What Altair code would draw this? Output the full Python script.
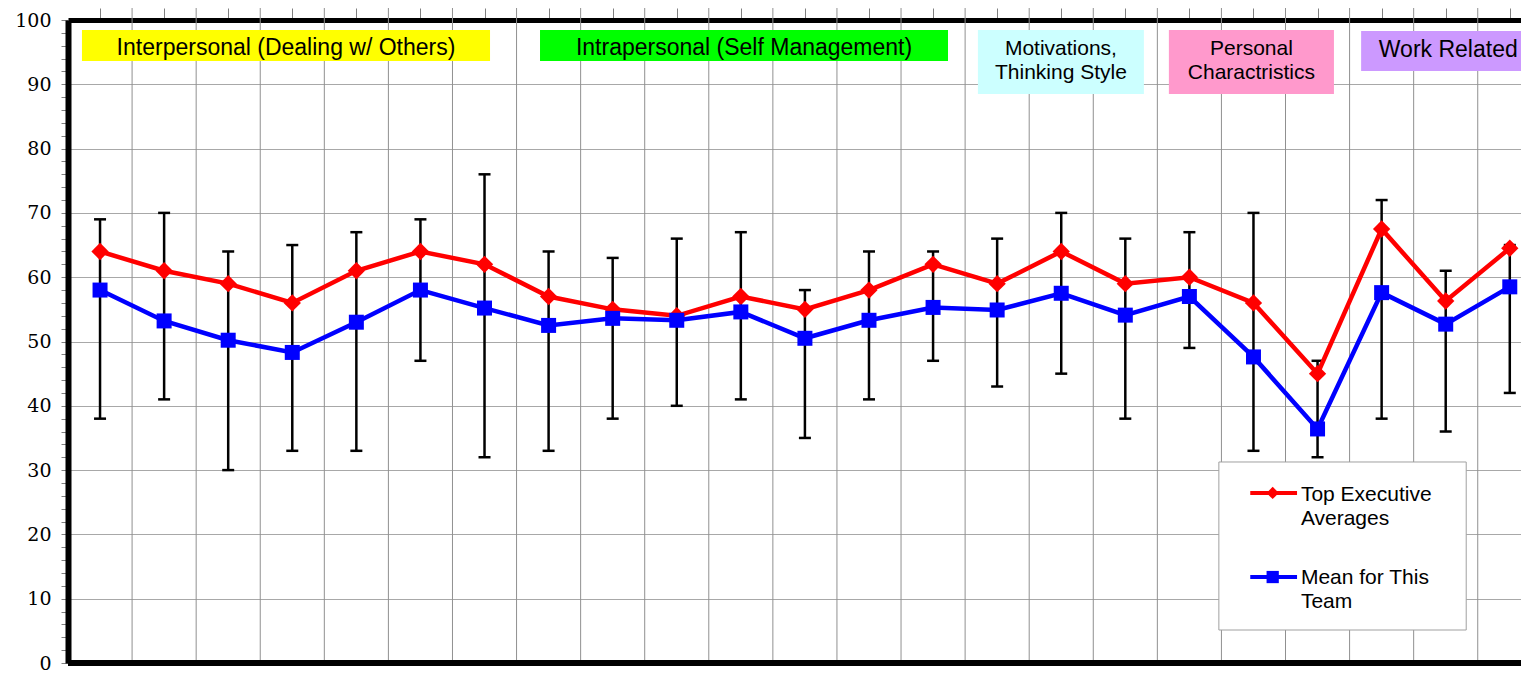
import altair as alt
import pandas as pd

# ---------------- data ----------------
category_index = list(range(1, 24))
top_exec_avg = [64, 61, 59, 56, 61, 64, 62, 57, 55, 54, 57, 55, 58, 62, 59, 64, 59, 60, 56, 45, 67.5, 56.3, 64.5]
team_mean = [58, 53.2, 50.2, 48.3, 53, 58, 55.2, 52.5, 53.6, 53.3, 54.6, 50.5, 53.3, 55.3, 54.9, 57.5, 54.1, 57, 47.6, 36.4, 57.6, 52.7, 58.5]
team_high = [69, 70, 64, 65, 67, 69, 76, 64, 63, 66, 67, 58, 64, 64, 66, 70, 66, 67, 70, 47, 72, 61, 65]
team_low = [38, 41, 30, 33, 33, 47, 32, 33, 38, 40, 41, 35, 41, 47, 43, 45, 38, 49, 33, 32, 38, 36, 42]

series_names = ["Top Executive Averages", "Mean for This Team"]
legend_labels = ["Top Executive\nAverages", "Mean for This\nTeam"]
series_colors = ["#FF0000", "#0000FF"]

group_labels = ["Interpersonal (Dealing w/ Others)", "Intrapersonal (Self Management)",
                "Motivations,\nThinking Style", "Personal\nCharactristics", "Work Related"]
group_colors = ["#FFFF00", "#00FF00", "#CCFFFF", "#FF99CC", "#CC99FF"]

y_tick_values = list(range(0, 101, 2))

# ---------------- layout (annotation placement, in axis units) ----------------
X_MAX = 23.175
box_x0 = [0.718, 7.866, 14.70, 17.68, 20.68]
box_x1 = [7.086, 14.233, 17.29, 20.256, 23.4]
box_y0 = [98.44, 98.44, 98.44, 98.44, 98.29]
box_y1 = [93.62, 93.62, 88.49, 88.49, 92.07]
text_y = [94.48, 94.48, 94.63, 94.63, 94.32]
big_text = [True, True, False, False, True]

LEG_X0, LEG_X1, LEG_Y0, LEG_Y1 = 18.46, 22.32, 31.26, 5.13
LEG_LINE_X0, LEG_LINE_X1, LEG_MARK_X, LEG_TEXT_X = 18.95, 19.68, 19.30, 19.74
leg_row_y = [26.44, 13.37]
leg_text_y = [25.27, 12.21]
leg_shapes = ["diamond", "square"]

# ---------------- tables ----------------
df = pd.DataFrame({"idx": category_index, "top": top_exec_avg, "mean": team_mean,
                   "hi": team_high, "lo": team_low})
long = pd.DataFrame({
    "idx": category_index * 2,
    "series": [series_names[0]] * len(category_index) + [series_names[1]] * len(category_index),
    "value": top_exec_avg + team_mean,
})
hdr = pd.DataFrame({"label": group_labels, "color": group_colors, "x0": box_x0, "x1": box_x1,
                    "y0": box_y0, "y1": box_y1, "ty": text_y, "big": big_text})
leg = pd.DataFrame({"series": series_names, "label": legend_labels, "ry": leg_row_y,
                    "ty": leg_text_y, "shape": leg_shapes})
one = pd.DataFrame({"k": [0]})

x_scale = alt.Scale(domain=[0.5, X_MAX], nice=False, zero=False)
y_scale = alt.Scale(domain=[0, 100], nice=False, zero=False)

x_axis = alt.Axis(orient="top", values=category_index, labels=False, ticks=True, tickSize=12,
                  tickColor="#808080", tickWidth=1, domainColor="black", domainWidth=5,
                  grid=False, title=None)
y_axis = alt.Axis(orient="left", values=y_tick_values,
                  labelExpr="datum.value % 10 === 0 ? datum.label : ''",
                  labelFont="DejaVu Serif", labelFontSize=19, labelColor="black",
                  labelPadding=10, labelOverlap=False, tickSize=7, tickColor="#808080",
                  tickWidth=1, domainColor="black", domainWidth=6, grid=True,
                  gridColor="#a8a8a8", gridWidth=1.2,
                  gridOpacity={"condition": {"test": "datum.value % 10 === 0", "value": 1}, "value": 0},
                  title=None)


def X(field):
    return alt.X(field, type="quantitative", scale=x_scale, axis=x_axis)


def Y(field):
    return alt.Y(field, type="quantitative", scale=y_scale, axis=y_axis)


def XD(v):
    return alt.XDatum(v, type="quantitative", scale=x_scale, axis=x_axis)


def YD(v):
    return alt.YDatum(v, type="quantitative", scale=y_scale, axis=y_axis)


color_enc = alt.Color("series:N", scale=alt.Scale(domain=series_names, range=series_colors), legend=None)

# vertical gridlines at category boundaries
vgrid = alt.Chart(df).transform_filter("datum.idx < 23").transform_calculate(
    gb="datum.idx + 0.5").mark_rule(color="#909090", strokeWidth=1).encode(
    x=X("gb"), y=YD(0), y2=alt.Y2Datum(102))

# group header boxes
hdr_rect = alt.Chart(hdr).mark_rect().encode(
    x=X("x0"), x2="x1", y=Y("y0"), y2="y1", fill=alt.Fill("color:N", scale=None))
hdr_base = alt.Chart(hdr).transform_calculate(xm="(datum.x0 + datum.x1) / 2")
hdr_text_big = hdr_base.transform_filter("datum.big").mark_text(
    font="Liberation Sans", fontSize=23, color="black", align="center", baseline="alphabetic",
    lineBreak="\n", lineHeight=24).encode(x=X("xm"), y=Y("ty"), text="label:N")
hdr_text_small = hdr_base.transform_filter("!datum.big").mark_text(
    font="Liberation Sans", fontSize=21, color="black", align="center", baseline="alphabetic",
    lineBreak="\n", lineHeight=24).encode(x=X("xm"), y=Y("ty"), text="label:N")

# error bars
err = alt.Chart(df).mark_rule(color="black", strokeWidth=2.5).encode(x=X("idx"), y=Y("lo"), y2="hi")
cap_hi = alt.Chart(df).mark_tick(orient="horizontal", size=12, thickness=2.5, color="black",
                                 opacity=1).encode(x=X("idx"), y=Y("hi"))
cap_lo = alt.Chart(df).mark_tick(orient="horizontal", size=12, thickness=2.5, color="black",
                                 opacity=1).encode(x=X("idx"), y=Y("lo"))

# series
lines = alt.Chart(long).mark_line(strokeWidth=4.5).encode(x=X("idx"), y=Y("value"), color=color_enc)
pts_top = alt.Chart(long).transform_filter(alt.datum.series == series_names[0]).mark_point(
    shape="diamond", filled=True, size=300, opacity=1).encode(x=X("idx"), y=Y("value"), color=color_enc)
pts_mean = alt.Chart(long).transform_filter(alt.datum.series == series_names[1]).mark_point(
    shape="square", filled=True, size=225, opacity=1).encode(x=X("idx"), y=Y("value"), color=color_enc)

# bottom border
bottom = alt.Chart(one).mark_rule(color="black", strokeWidth=6).encode(
    x=XD(0.5), x2=alt.X2Datum(X_MAX + 0.3), y=YD(0))

# legend
leg_box = alt.Chart(one).mark_rect(fill="white", stroke="#a0a0a0", strokeWidth=1).encode(
    x=XD(LEG_X0), x2=alt.X2Datum(LEG_X1), y=YD(LEG_Y0), y2=alt.Y2Datum(LEG_Y1))
leg_lines = alt.Chart(leg).mark_rule(strokeWidth=4).encode(
    x=XD(LEG_LINE_X0), x2=alt.X2Datum(LEG_LINE_X1), y=Y("ry"), color=color_enc)
leg_pts = alt.Chart(leg).mark_point(filled=True, size=150, opacity=1).encode(
    x=XD(LEG_MARK_X), y=Y("ry"), color=color_enc,
    shape=alt.Shape("shape:N", scale=None))
leg_text = alt.Chart(leg).mark_text(font="Liberation Sans", fontSize=21, color="black", align="left",
                                    baseline="alphabetic", lineBreak="\n", lineHeight=24).encode(
    x=XD(LEG_TEXT_X), y=Y("ty"), text="label:N")

chart = alt.layer(
    vgrid, hdr_rect, hdr_text_big, hdr_text_small, err, cap_hi, cap_lo, lines, pts_top, pts_mean,
    bottom, leg_box, leg_lines, leg_pts, leg_text
).properties(
    width=1453, height=643,
    autosize=alt.AutoSizeParams(type="none"),
    padding={"left": 60, "top": 12, "right": 0, "bottom": 11},
    background="white",
).configure_view(stroke=None)

chart.save("out.html", embed_options={"renderer": "svg", "actions": False})
